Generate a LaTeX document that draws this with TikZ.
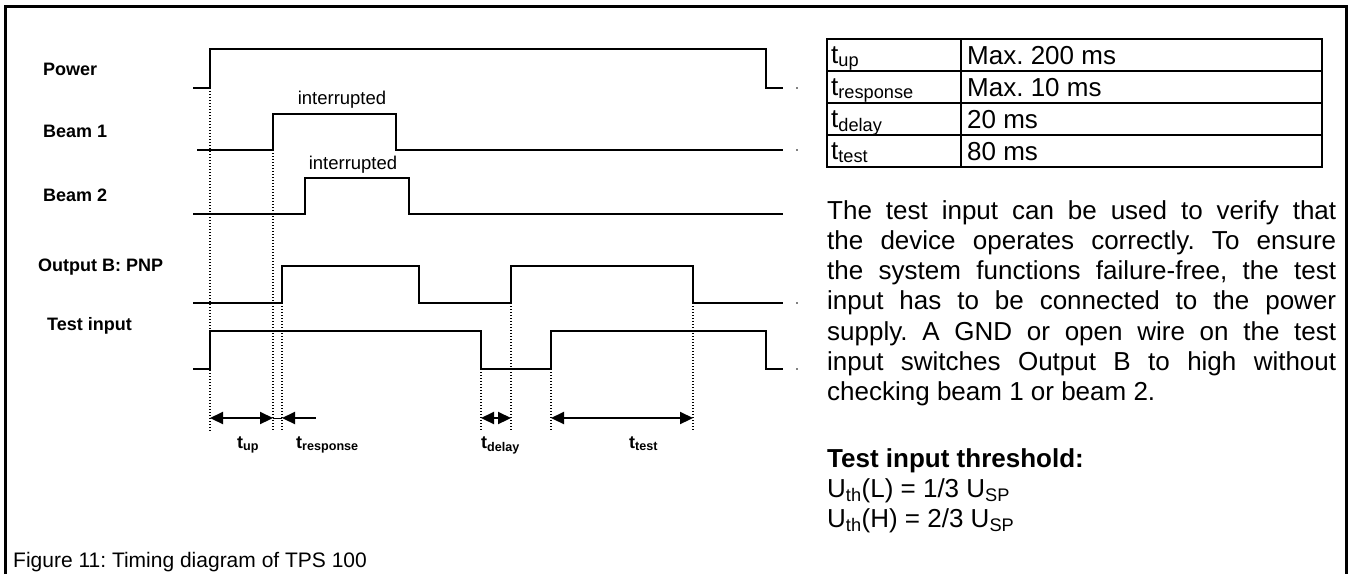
\documentclass[tikz,border=0pt]{standalone}
\usepackage{fontspec}
\setmainfont{Liberation Sans}
\usepackage{tikz}
\usetikzlibrary{arrows.meta,positioning,calc}
\frenchspacing
\newcommand{\fsz}[2]{\fontsize{#1}{#2}\selectfont}
\tikzset{
 frame/.style={line width=3pt},
 sig/.style={line width=2.2pt},
 guide/.style={line width=1.8pt,dash pattern=on 1.4pt off 1.6pt},
 dim/.style={line width=2.2pt,{Triangle[length=13pt,width=12pt]}-{Triangle[length=13pt,width=12pt]}},
 halfdim/.style={line width=2.2pt,{Triangle[length=13pt,width=12pt]}-},
 tick/.style={circle,fill,inner sep=0pt,minimum size=1.8pt},
 signame/.style={anchor=base west,font=\fsz{18}{20}\bfseries,inner sep=0pt},
 note/.style={anchor=base,font=\fsz{18.5}{20},inner sep=0pt},
 tlab/.style={anchor=base west,font=\fsz{18}{19}\bfseries,inner sep=0pt},
 cell/.style={anchor=base west,font=\fsz{26}{30},inner sep=0pt},
 rule/.style={line width=2.5pt}
}
\begin{document}
\begin{tikzpicture}[x=1pt,y=-1pt]
\useasboundingbox (0,0) rectangle (1349,574);
% frame, open at the bottom
\draw[frame] (5,574) -- (5,6) -- (1346,6) -- (1346,574);

% signal names
\node[signame] (pw) at (43,75) {Power};
\node[signame] (b1) at (43,137) {Beam 1};
\node[signame] (b2) at (43,201) {Beam 2};
\node[signame] (ob) at (38,271) {Output B: PNP};
\node[signame] (ti) at (47,330) {Test input};

% waveforms
\draw[sig] (193,88) -- (210,88) -- (210,49) -- (766,49) -- (766,88) -- (783,88);
\draw[sig] (197,150) -- (273,150) -- (273,114) -- (396,114) -- (396,150) -- (783,150);
\draw[sig] (193,214) -- (305,214) -- (305,178) -- (409,178) -- (409,214) -- (783,214);
\draw[sig] (193,303) -- (282,303) -- (282,266) -- (419,266) -- (419,303) -- (511,303)
  -- (511,266) -- (693,266) -- (693,303) -- (783,303);
\draw[sig] (193,369) -- (210,369) -- (210,331) -- (481,331) -- (481,369) -- (551,369)
  -- (551,331) -- (766,331) -- (766,369) -- (783,369);
\foreach \y in {88,150,303,369} \node[tick] at (797,\y) {};

\node[note] (int1) at (342,104) {interrupted};
\node[note] (int2) at (353,169) {interrupted};

% guides
\foreach \x/\y in {210/88,273/150,282/303,481/369,511/303,551/369,693/303}
  \draw[guide] (\x,\y) -- (\x,431);

% time spans
\coordinate (s0) at (210,418);
\coordinate (s1) at (273,418);
\coordinate (s2) at (282,418);
\coordinate (s3) at (316,418);
\coordinate (s4) at (481,418);
\coordinate (s5) at (511,418);
\coordinate (s6) at (551,418);
\coordinate (s7) at (693,418);
\draw[dim] (s0) -- (s1);
\draw[line width=1pt] (s1) -- (s2);
\draw[halfdim] (s2) -- (s3);
\draw[dim] (s4) -- (s5);
\draw[dim] (s6) -- (s7);
\node[tlab] (lup) at (237,448) {t\textsubscript{up}};
\node[tlab] (lresp) at (296,448) {t\textsubscript{response}};
\node[tlab] (ldel) at (481,448) {t\textsubscript{delay}};
\node[tlab] (ltest) at (629,448) {t\textsubscript{test}};

% table
\draw[rule] (827,39) rectangle (1322,167);
\foreach \y in {71,103,135} \draw[rule] (827,\y) -- (1322,\y);
\draw[rule] (961,39) -- (961,167);
\node[cell] (c1) at (831,63) {t\textsubscript{up}};
\node[cell] (c2) at (831,95) {t\textsubscript{response}};
\node[cell] (c3) at (831,127) {t\textsubscript{delay}};
\node[cell] (c4) at (831,159) {t\textsubscript{test}};
\node[cell] (v1) at (967,64) {Max. 200 ms};
\node[cell] (v2) at (967,96) {Max. 10 ms};
\node[cell] (v3) at (967,128) {20 ms};
\node[cell] (v4) at (967,160) {80 ms};

% text
\node[cell,text width=509pt,align=justify,font=\fsz{26}{30.3}] (para) at (827,219)
 {\tolerance=10000\hyphenpenalty=10000
 The test input can be used to verify that\linebreak
 the device operates correctly. To ensure\linebreak
 the system functions failure-free, the test\linebreak
 input has to be connected to the power\linebreak
 supply. A GND or open wire on the test\linebreak
 input switches Output B to high without\linebreak
 checking beam 1 or beam 2.};
\node[cell,font=\fsz{26}{30}\bfseries] (thr) at (827,467) {Test input threshold:};
\node[cell] (ul) at (827,497) {U\textsubscript{th}(L) = 1/3 U\textsubscript{SP}};
\node[cell] (uh) at (827,527) {U\textsubscript{th}(H) = 2/3 U\textsubscript{SP}};

\node[anchor=base west,inner sep=0pt,font=\fsz{21}{24}] (cap) at (13,567)
 {Figure 11: Timing diagram of TPS 100};
\end{tikzpicture}
\end{document}
